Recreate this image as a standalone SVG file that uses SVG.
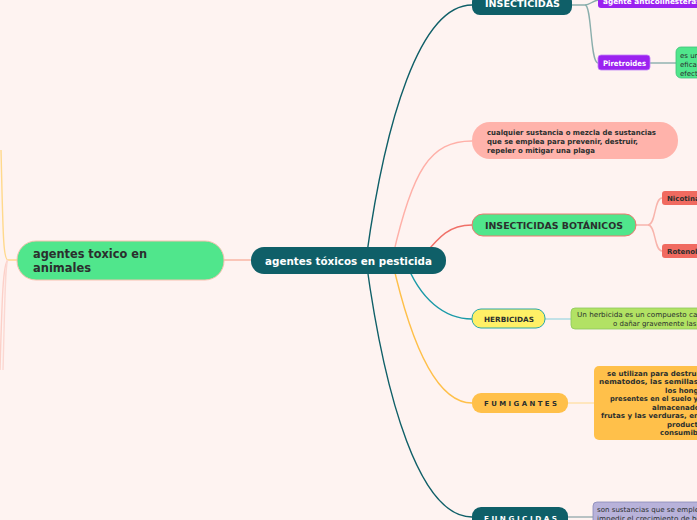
<svg xmlns="http://www.w3.org/2000/svg" width="697" height="520" viewBox="0 0 697 520">
<style>
text{font-family:"DejaVu Sans","Noto Sans",sans-serif;font-weight:bold;fill:#2b2f2e}
.w{fill:#ffffff}
.c{fill:none;stroke-width:1.4}
.s{font-size:7px}
.n{font-weight:normal}
</style>
<rect width="697" height="520" fill="#fef3f1"/>
<g id="connectors">
<path class="c" d="M17,260 L8,260 C3,260 3,230 1,150" stroke="#ffd98c"/>
<path class="c" d="M8,260 C3,262 2,300 0,370" stroke="#fcd0c8"/>
<path class="c" d="M8,260 C5,262 5,300 3,370" stroke="#fcd8d2"/>
<path class="c" d="M224,260 L251,260" stroke="#f8b0a0"/>
<path class="c" d="M366,260 C385,120 420,5 472,5" stroke="#0f5f68"/>
<path class="c" d="M392,260 C412,170 430,141 472,141" stroke="#ffb0a8"/>
<path class="c" d="M420,260 C440,235 450,225 472,225" stroke="#f07068"/>
<path class="c" d="M405,260 C420,300 445,319 472,319" stroke="#1a9aa8"/>
<path class="c" d="M392,260 C410,340 435,403 472,403" stroke="#ffc04a"/>
<path class="c" d="M366,260 C385,400 420,517 472,517" stroke="#0f5f68"/>
<path class="c" d="M572,5 L585,5 C590,5 592,1 598,0" stroke="#8aaeac" stroke-width="1"/>
<path class="c" d="M585,5 C592,5 590,63 598,63" stroke="#8aaeac" stroke-width="1"/>
<path class="c" d="M650,63 L676,63" stroke="#8aaeac" stroke-width="1"/>
<path class="c" d="M636,225 L648,225 C656,225 654,198 662,198" stroke="#f8b4ac" stroke-width="1"/>
<path class="c" d="M648,225 C656,225 654,251 662,251" stroke="#f8b4ac" stroke-width="1"/>
<path class="c" d="M545,319 L571,319" stroke="#a8d8e2" stroke-width="1.6"/>
<path class="c" d="M568,403 L594,403" stroke="#ffe0a8" stroke-width="1.6"/>
<path class="c" d="M568,517 L593,517" stroke="#9aacb0" stroke-width="1.2"/>
</g>
<g id="central">
<rect x="251" y="247" width="195" height="27" rx="13" fill="#0f5f68"/>
<text class="w" x="265" y="265" font-size="11" textLength="167" lengthAdjust="spacingAndGlyphs">agentes tóxicos en pesticida</text>
</g>
<g id="animales">
<rect x="17" y="241" width="207" height="39" rx="19" fill="#50e68c" stroke="#f8c0b0"/>
<text x="33" y="258" font-size="12.5" textLength="114" lengthAdjust="spacingAndGlyphs">agentes toxico en</text>
<text x="33" y="272" font-size="12.5" textLength="58" lengthAdjust="spacingAndGlyphs">animales</text>
</g>
<g id="insecticidas">
<rect x="472" y="-6" width="100" height="21" rx="8" fill="#0f5f68"/>
<text class="w" x="485" y="7" font-size="8.5" textLength="75" lengthAdjust="spacingAndGlyphs">INSECTICIDAS</text>
</g>
<g id="anticolinesterasi">
<rect x="598" y="-8" width="120" height="16" rx="3" fill="#9b22f0"/>
<text class="w" x="603" y="4" font-size="7.5" textLength="100" lengthAdjust="spacingAndGlyphs">agente anticolinesterasi</text>
</g>
<g id="piretroides">
<rect x="598" y="55" width="52" height="15" rx="3" fill="#9b22f0" stroke="#c080f8" stroke-width="0.8"/>
<text class="w" x="603" y="66" font-size="7.5" textLength="43" lengthAdjust="spacingAndGlyphs">Piretroides</text>
</g>
<g id="piretroides-def">
<rect x="676" y="47" width="40" height="31" rx="5" fill="#50e68c" stroke="#40c078" stroke-width="0.8"/>
<text class="s n" x="680" y="58">es un</text>
<text class="s n" x="680" y="67">efica</text>
<text class="s n" x="680" y="76">efect</text>
</g>
<g id="definicion">
<rect x="472" y="122" width="206" height="37" rx="18" fill="#ffb3ab"/>
<text x="487" y="135" font-size="7.2" textLength="169" lengthAdjust="spacingAndGlyphs">cualquier sustancia o mezcla de sustancias</text>
<text x="487" y="144" font-size="7.2" textLength="151" lengthAdjust="spacingAndGlyphs">que se emplea para prevenir, destruir,</text>
<text x="487" y="153" font-size="7.2" textLength="108" lengthAdjust="spacingAndGlyphs">repeler o mitigar una plaga</text>
</g>
<g id="botanicos">
<rect x="472" y="214" width="164" height="22" rx="11" fill="#50e68c" stroke="#f07870"/>
<text x="485" y="229" font-size="8.8" textLength="138" lengthAdjust="spacingAndGlyphs">INSECTICIDAS BOTÁNICOS</text>
</g>
<g id="nicotina">
<rect x="662" y="191" width="50" height="14" rx="3" fill="#f06a60"/>
<text x="667" y="201" font-size="7">Nicotina</text>
</g>
<g id="rotenol">
<rect x="662" y="244" width="50" height="14" rx="3" fill="#f06a60"/>
<text x="667" y="254" font-size="7">Rotenol</text>
</g>
<g id="herbicidas">
<rect x="472" y="309" width="73" height="19" rx="9" fill="#fff066" stroke="#2aa6a6"/>
<text x="484" y="322" font-size="7.2" textLength="50" lengthAdjust="spacingAndGlyphs">HERBICIDAS</text>
</g>
<g id="herbicidas-def">
<rect x="571" y="308" width="140" height="21" rx="4" fill="#b2e264" stroke="#8cc85a" stroke-width="0.8"/>
<text class="s n" x="577" y="317" textLength="125" lengthAdjust="spacingAndGlyphs">Un herbicida es un compuesto cap</text>
<text class="s n" x="613" y="326" textLength="90" lengthAdjust="spacingAndGlyphs">o dañar gravemente las p</text>
</g>
<g id="fumigantes">
<rect x="472" y="393" width="96" height="20" rx="9" fill="#ffc04a"/>
<text x="484" y="406" font-size="6.8" textLength="73" lengthAdjust="spacingAndGlyphs">F U M I G A N T E S</text>
</g>
<g id="fumigantes-def">
<rect x="594" y="366" width="120" height="74" rx="5" fill="#ffc04a"/>
<text class="s" x="607" y="376" textLength="92" lengthAdjust="spacingAndGlyphs">se utilizan para destrui</text>
<text class="s" x="599" y="384" textLength="99" lengthAdjust="spacingAndGlyphs">nematodos, las semillas</text>
<text class="s" x="665" y="393">los hong</text>
<text class="s" x="610" y="401" textLength="88" lengthAdjust="spacingAndGlyphs">presentes en el suelo y</text>
<text class="s" x="652" y="410">almacenado</text>
<text class="s" x="601" y="418" textLength="98" lengthAdjust="spacingAndGlyphs">frutas y las verduras, en</text>
<text class="s" x="667" y="427">product</text>
<text class="s" x="660" y="435">consumib</text>
</g>
<g id="fungicidas">
<rect x="472" y="507" width="96" height="24" rx="9" fill="#0f5f68"/>
<text class="w" x="484" y="521" font-size="6.8" textLength="73" lengthAdjust="spacingAndGlyphs">F U N G I C I D A S</text>
</g>
<g id="fungicidas-def">
<rect x="593" y="502" width="120" height="30" rx="4" fill="#b8b2da" stroke="#8888b8" stroke-width="0.8"/>
<text class="s n" x="597" y="512" textLength="102" lengthAdjust="spacingAndGlyphs">son sustancias que se emple</text>
<text class="s n" x="597" y="521" textLength="104" lengthAdjust="spacingAndGlyphs">impedir el crecimiento de ho</text>
</g>
</svg>
